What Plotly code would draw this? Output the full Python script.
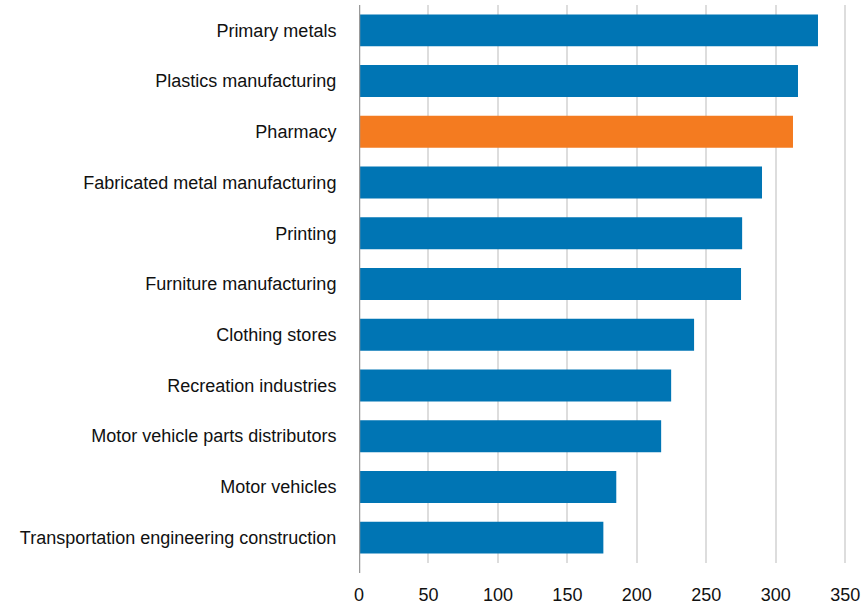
import plotly.graph_objects as go

categories = [
    "Primary metals",
    "Plastics manufacturing",
    "Pharmacy",
    "Fabricated metal manufacturing",
    "Printing",
    "Furniture manufacturing",
    "Clothing stores",
    "Recreation industries",
    "Motor vehicle parts distributors",
    "Motor vehicles",
    "Transportation engineering construction",
]
values = [330.4, 316.0, 312.4, 290.1, 275.8, 275.0, 241.2, 224.7, 217.5, 185.2, 175.9]
highlight = "Pharmacy"
x_ticks = [0, 50, 100, 150, 200, 250, 300, 350]

BLUE = "#0075b4"
ORANGE = "#f47b20"
colors = [ORANGE if c == highlight else BLUE for c in categories]

fig = go.Figure(
    go.Bar(
        x=values,
        y=categories,
        orientation="h",
        marker=dict(color=colors, line=dict(width=0)),
        width=0.63,
        hoverinfo="x+y",
    )
)

fig.update_layout(
    width=868,
    height=610,
    margin=dict(l=358.5, r=20, t=5, b=45),
    plot_bgcolor="white",
    paper_bgcolor="white",
    font=dict(family="Liberation Sans, Arial, Helvetica, sans-serif", size=18, color="#111111"),
    showlegend=False,
    bargap=0.37,
)

fig.update_xaxes(
    range=[0, 352],
    tickvals=x_ticks,
    ticktext=[str(t) for t in x_ticks],
    showgrid=True,
    gridcolor="#dddddd",
    gridwidth=2,
    zeroline=False,
    showline=False,
    ticks="outside",
    ticklen=15,
    tickcolor="rgba(0,0,0,0)",
    tickfont=dict(size=18),
)

fig.update_yaxes(
    categoryorder="array",
    categoryarray=categories[::-1],
    range=[-0.5, len(categories) - 0.5],
    showgrid=False,
    zeroline=False,
    showline=False,
    ticks="outside",
    ticklen=18,
    tickcolor="rgba(0,0,0,0)",
    tickfont=dict(size=18),
)

# axis baseline at zero, extending slightly below plot area
fig.add_shape(
    type="line",
    xref="x",
    yref="paper",
    x0=0,
    x1=0,
    y0=-0.018,
    y1=1,
    line=dict(color="#999999", width=2.5),
    layer="above",
)

fig.write_html(
    "out.html",
    config={"displayModeBar": False},
    post_script="document.body.style.margin='0';document.body.style.padding='0';",
)
